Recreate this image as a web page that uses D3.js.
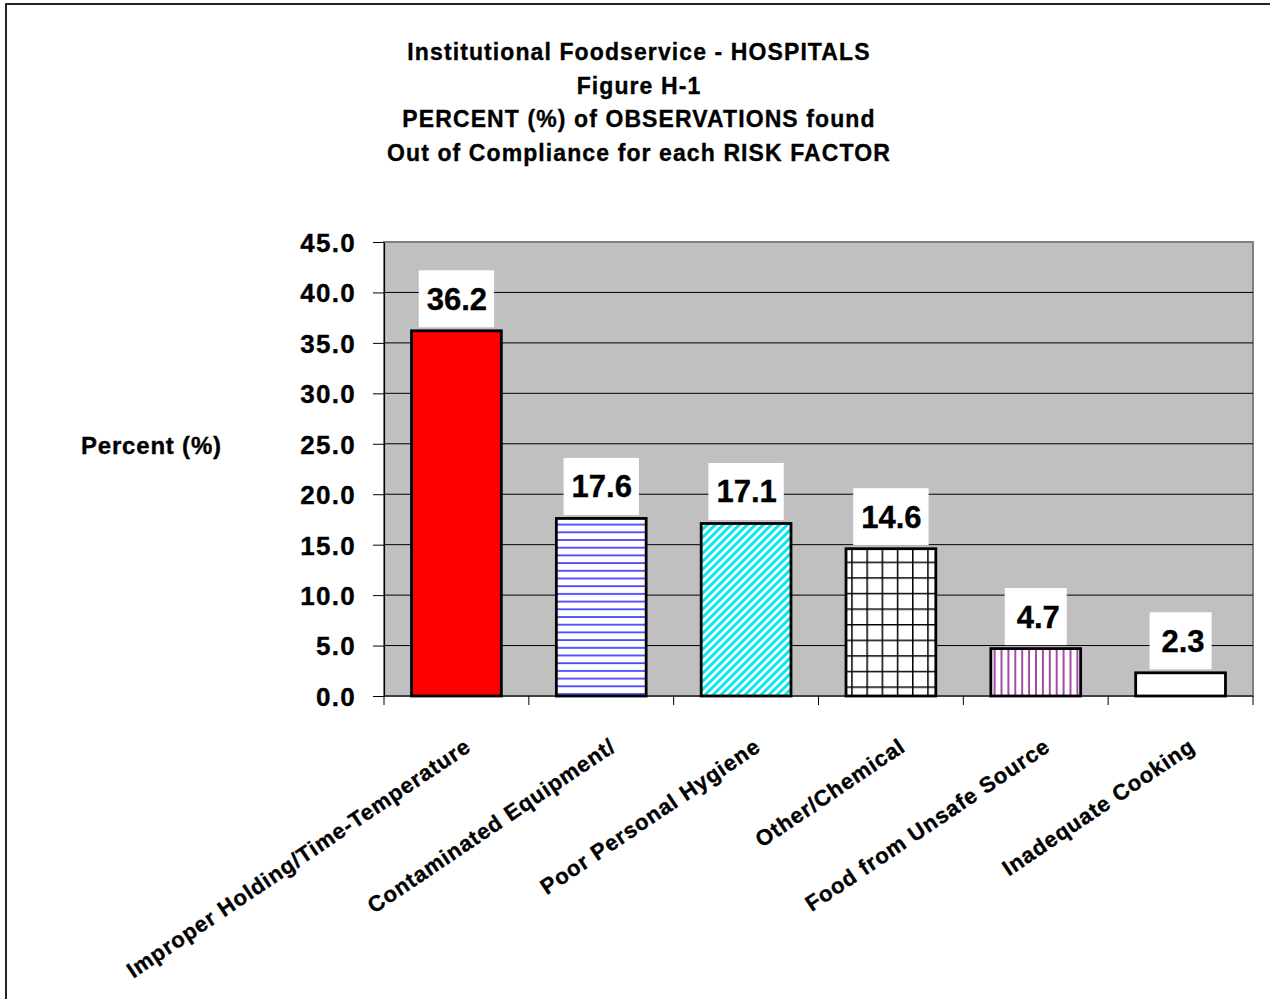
<!DOCTYPE html>
<html>
<head>
<meta charset="utf-8">
<script src="https://cdn.jsdelivr.net/npm/d3@7"></script>
<style>
  html, body { margin: 0; padding: 0; background: #fff; }
  svg { display: block; }
  text { font-family: "Liberation Sans", Arial, sans-serif; font-weight: bold; fill: #000; stroke: #000; stroke-width: 0.35px; }
</style>
</head>
<body>
<svg id="chart" width="1270" height="999"></svg>
<script>
// Risk factor categories and the share of observations out of compliance
const categories = [
  "Improper Holding/Time-Temperature",
  "Contaminated Equipment/",
  "Poor Personal Hygiene",
  "Other/Chemical",
  "Food from Unsafe Source",
  "Inadequate Cooking"
];
const values = [36.2, 17.6, 17.1, 14.6, 4.7, 2.3];
const yTicks = [0, 5, 10, 15, 20, 25, 30, 35, 40, 45];
const titleLines = [
  "Institutional Foodservice - HOSPITALS",
  "Figure H-1",
  "PERCENT (%) of OBSERVATIONS found",
  "Out of Compliance for each RISK FACTOR"
];
const yLabel = "Percent (%)";

// fill for each bar, in category order
const barFills = ["#ff0000", "url(#hlines)", "url(#diag)", "url(#grid)", "url(#vlines)", "#ffffff"];

const svg = d3.select("#chart");

// outer frame
svg.append("rect")
  .attr("x", 6).attr("y", 4).attr("width", 1300).attr("height", 1100)
  .attr("fill", "#fff").attr("stroke", "#000").attr("stroke-width", 1.7);

// fill patterns
const defs = svg.append("defs");
const hl = defs.append("pattern").attr("id", "hlines").attr("patternUnits", "userSpaceOnUse")
  .attr("width", 8).attr("height", 7.7);
hl.append("rect").attr("width", 8).attr("height", 7.7).attr("fill", "#fff");
hl.append("line").attr("x1", 0).attr("x2", 8).attr("y1", 1).attr("y2", 1)
  .attr("stroke", "#0000ff").attr("stroke-width", 1.3);

const dg = defs.append("pattern").attr("id", "diag").attr("patternUnits", "userSpaceOnUse")
  .attr("width", 8).attr("height", 8);
dg.append("rect").attr("width", 8).attr("height", 8).attr("fill", "#fff");
dg.append("path").attr("d", "M-2,2 L2,-2 M0,8 L8,0 M6,10 L10,6")
  .attr("stroke", "#00e8f0").attr("stroke-width", 3);

const gr = defs.append("pattern").attr("id", "grid").attr("patternUnits", "userSpaceOnUse")
  .attr("width", 15.2).attr("height", 15.6);
gr.append("rect").attr("width", 15.2).attr("height", 15.6).attr("fill", "#fff");
gr.append("path").attr("d", "M0.75,0 V15.6 M0,0.75 H15.2")
  .attr("stroke", "#000").attr("stroke-width", 1.5);

const vl = defs.append("pattern").attr("id", "vlines").attr("patternUnits", "userSpaceOnUse")
  .attr("width", 6.9).attr("height", 8);
vl.append("rect").attr("width", 6.9).attr("height", 8).attr("fill", "#fff");
vl.append("line").attr("x1", 1).attr("x2", 1).attr("y1", 0).attr("y2", 8)
  .attr("stroke", "#800080").attr("stroke-width", 1.4);

// plot geometry
const plot = { left: 384, right: 1253, top: 242, bottom: 696 };

const x = d3.scaleBand()
  .domain(categories)
  .range([plot.left, plot.right])
  .paddingInner(0.38)
  .paddingOuter(0.19);

const y = d3.scaleLinear()
  .domain([0, 45])
  .range([plot.bottom, plot.top]);

// title
svg.append("g").selectAll("text")
  .data(titleLines)
  .join("text")
  .attr("x", 639)
  .attr("y", (d, i) => 60 + i * 33.5)
  .attr("text-anchor", "middle")
  .style("font-size", "23px")
  .style("letter-spacing", "1.1px")
  .text(d => d);

// plot area
svg.append("rect")
  .attr("x", plot.left).attr("y", plot.top)
  .attr("width", plot.right - plot.left).attr("height", plot.bottom - plot.top)
  .attr("fill", "#c0c0c0").attr("stroke", "#808080").attr("stroke-width", 2);

// horizontal gridlines
svg.append("g").selectAll("line")
  .data(yTicks.filter(t => t > 0 && t < 45))
  .join("line")
  .attr("x1", plot.left).attr("x2", plot.right)
  .attr("y1", d => y(d)).attr("y2", d => y(d))
  .attr("stroke", "#000").attr("stroke-width", 1);

// y axis
const yAxis = svg.append("g")
  .attr("transform", `translate(${plot.left},0)`)
  .call(d3.axisLeft(y).tickValues(yTicks).tickFormat(d3.format(".1f"))
    .tickSize(11).tickSizeOuter(0).tickPadding(17));
yAxis.select(".domain").attr("stroke", "#000").attr("stroke-width", 1.2);
yAxis.selectAll(".tick line").attr("stroke", "#000");
yAxis.selectAll(".tick text")
  .attr("dy", "0.36em")
  .style("font-size", "26px")
  .style("letter-spacing", "1.3px")
  .style("font-family", "'Liberation Sans', Arial, sans-serif")
  .style("font-weight", "bold");

// y axis title
svg.append("text")
  .attr("x", 81).attr("y", 454)
  .style("font-size", "24px")
  .style("letter-spacing", "0.8px")
  .text(yLabel);

// bars
svg.append("g").selectAll("rect")
  .data(values)
  .join("rect")
  .attr("x", (d, i) => x(categories[i]))
  .attr("y", d => y(d))
  .attr("width", x.bandwidth())
  .attr("height", d => y(0) - y(d))
  .attr("fill", (d, i) => barFills[i])
  .attr("stroke", "#000")
  .attr("stroke-width", 2.8);

// x axis baseline and boundary ticks
const gap = x.step() - x.bandwidth();
const boundaries = categories.map(c => x(c) - gap / 2).concat([x(categories[categories.length - 1]) + x.bandwidth() + gap / 2]);
svg.append("line")
  .attr("x1", plot.left).attr("x2", plot.right)
  .attr("y1", y(0)).attr("y2", y(0))
  .attr("stroke", "#000").attr("stroke-width", 1.2);
svg.append("g").selectAll("line")
  .data(boundaries)
  .join("line")
  .attr("x1", d => d).attr("x2", d => d)
  .attr("y1", y(0)).attr("y2", y(0) + 9)
  .attr("stroke", "#000").attr("stroke-width", 1);

// category labels
const xAxis = svg.append("g")
  .attr("transform", `translate(0,${plot.bottom})`)
  .call(d3.axisBottom(x).tickSize(0));
xAxis.select(".domain").remove();
xAxis.selectAll(".tick text")
  .attr("x", 0).attr("y", 0).attr("dy", 0)
  .attr("text-anchor", "end")
  .attr("transform", "translate(16,54) rotate(-34)")
  .style("font-size", "22px")
  .style("letter-spacing", "0.9px")
  .style("font-family", "'Liberation Sans', Arial, sans-serif")
  .style("font-weight", "bold");

// value labels in white boxes
const labels = svg.append("g").selectAll("g")
  .data(values)
  .join("g");
labels.each(function(d, i) {
  const g = d3.select(this);
  const cx = x(categories[i]) + x.bandwidth() / 2;
  const boxBottom = y(d) - 3.5;
  const boxH = 57;
  const box = g.append("rect").attr("fill", "#fff");
  const t = g.append("text")
    .style("font-size", "31px")
    .text(d3.format(".1f")(d));
  const tw = t.node().getComputedTextLength();
  const bw = Math.max(tw + 15, 62);
  box.attr("x", cx - bw / 2).attr("y", boxBottom - boxH)
    .attr("width", bw).attr("height", boxH);
  t.attr("text-anchor", "end")
    .attr("x", cx + bw / 2 - 7)
    .attr("y", boxBottom - boxH / 2 + 11);
});
</script>
</body>
</html>
